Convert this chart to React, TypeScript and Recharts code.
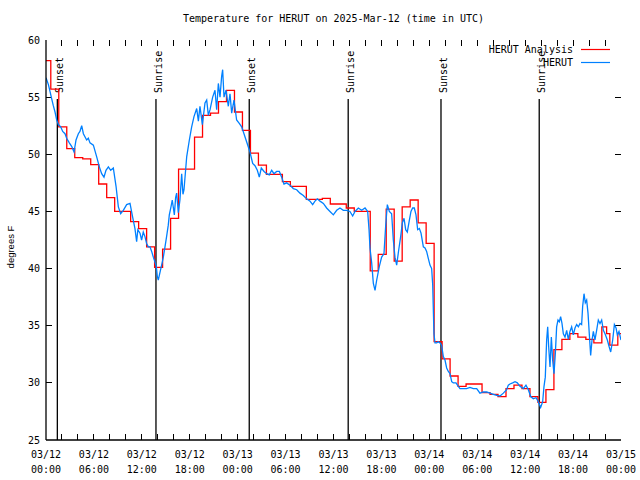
import React from 'react';
import { LineChart, Line, XAxis, YAxis, ReferenceLine, Legend } from 'recharts';

const MONO = '"DejaVu Sans Mono", monospace';
const SANS = '"Liberation Sans", Arial, sans-serif';

const titleText = 'Temperature for HERUT on 2025-Mar-12 (time in UTC)';
const yAxisTitle = 'degrees F';

const xTicks = [0, 2, 4, 6, 8, 10, 12, 14, 16, 18, 20, 22, 24, 26, 28, 30, 32, 34, 36, 38, 40, 42, 44, 46, 48, 50, 52, 54, 56, 58, 60, 62, 64, 66, 68, 70, 72];
const dayLabels = ['03/12', '03/12', '03/12', '03/12', '03/13', '03/13', '03/13', '03/13', '03/14', '03/14', '03/14', '03/14', '03/15'];
const timeLabels = ['00:00', '06:00', '12:00', '18:00', '00:00', '06:00', '12:00', '18:00', '00:00', '06:00', '12:00', '18:00', '00:00'];
const yTicks = [25, 30, 35, 40, 45, 50, 55, 60];

const seriesNames = ['HERUT Analysis', 'HERUT'];
const seriesColors = ['#ff0000', '#0080ff'];

// Observations (hours since 03/12 00:00 UTC, deg F)
const obsHours = [
  0.0, 0.3, 0.5, 0.7, 0.9, 1.13, 1.34, 1.55, 1.84, 2.09, 2.38, 2.59, 2.92, 3.21, 3.51, 3.76, 4.05, 4.25, 4.47, 4.68,
  5.09, 5.3, 5.51, 5.93, 6.34, 6.68, 6.97, 7.26, 7.51, 7.81, 8.1, 8.43, 8.77, 9.06, 9.35, 9.68, 10.1, 10.52, 10.85, 11.14,
  11.35, 11.5, 11.77, 11.97, 12.18, 12.39, 12.6, 12.81, 13.02, 13.23, 13.44, 13.64, 13.81, 13.94, 14.06, 14.19, 14.35, 14.48, 14.69, 14.9,
  15.1, 15.31, 15.44, 15.65, 15.81, 16.07, 16.23, 16.36, 16.57, 16.77, 16.99, 17.15, 17.28, 17.62, 17.95, 18.24, 18.53, 18.87, 19.08, 19.28,
  19.58, 19.91, 20.12, 20.33, 20.54, 20.87, 21.16, 21.37, 21.58, 21.79, 21.99, 22.12, 22.29, 22.54, 22.83, 23.04, 23.25, 23.54, 23.87, 24.2,
  24.5, 24.79, 25.12, 25.54, 25.88, 26.17, 26.46, 26.71, 26.96, 27.3, 27.63, 27.96, 28.26, 28.55, 28.88, 29.22, 29.51, 29.8, 30.13, 30.55,
  30.97, 31.39, 31.8, 32.22, 32.64, 33.06, 33.39, 33.68, 33.98, 34.31, 34.73, 35.14, 35.56, 35.98, 36.4, 36.81, 37.23, 37.65, 38.06, 38.4,
  38.69, 39.11, 39.53, 39.95, 40.28, 40.45, 40.57, 40.78, 40.99, 41.2, 41.41, 41.74, 42.03, 42.32, 42.53, 42.74, 42.99, 43.28, 43.49, 43.7,
  43.91, 44.16, 44.41, 44.62, 44.83, 45.04, 45.24, 45.49, 45.7, 45.91, 46.12, 46.33, 46.54, 46.75, 46.96, 47.25, 47.46, 47.66, 47.87, 48.08,
  48.29, 48.42, 48.58, 48.71, 48.92, 49.13, 49.33, 49.54, 49.75, 49.96, 50.17, 50.38, 50.59, 50.8, 51.0, 51.34, 51.63, 51.84, 52.26, 52.67,
  53.09, 53.51, 53.93, 54.34, 54.76, 55.18, 55.6, 56.01, 56.43, 56.85, 57.27, 57.68, 57.89, 58.1, 58.43, 58.73, 59.02, 59.35, 59.77, 60.1,
  60.4, 60.69, 61.02, 61.36, 61.65, 61.94, 62.19, 62.36, 62.52, 62.69, 62.82, 62.94, 63.11, 63.28, 63.44, 63.61, 63.78, 63.94, 64.11, 64.28,
  64.44, 64.61, 64.78, 64.99, 65.2, 65.4, 65.61, 65.82, 66.03, 66.24, 66.45, 66.66, 66.87, 67.07, 67.2, 67.37, 67.53, 67.7, 67.87, 68.03,
  68.2, 68.37, 68.54, 68.74, 68.95, 69.16, 69.37, 69.58, 69.79, 70.0, 70.29, 70.5, 70.71, 70.96, 71.17, 71.38, 71.54, 71.75, 72.0,
];
const obsTemps = [
  56.7, 56.1, 55.5, 54.9, 54.3, 53.7, 53.0, 52.6, 52.4, 52.0, 51.8, 51.4, 51.0, 50.7, 50.2, 51.25, 51.8, 52.0, 52.5, 51.8,
  51.25, 51.4, 51.0, 50.8, 49.8, 48.9, 48.3, 48.0, 48.6, 48.9, 48.6, 48.8, 47.2, 45.4, 44.8, 45.1, 45.6, 45.7, 44.5, 43.5,
  42.35, 43.4, 43.1, 42.5, 43.2, 42.8, 42.2, 41.9, 41.9, 41.5, 41.0, 40.6, 40.2, 39.3, 39.0, 39.4, 39.9, 40.3, 41.0, 41.9,
  42.8, 43.8, 44.7, 45.4, 46.0, 44.7, 46.2, 46.6, 44.9, 46.0, 48.3, 46.5, 46.9, 49.8, 51.25, 52.4, 53.3, 54.0, 52.9, 54.2,
  52.6, 54.5, 54.75, 53.4, 53.9, 55.0, 55.6, 53.9, 56.2, 55.0, 56.8, 57.4, 55.0, 55.6, 54.2, 55.3, 53.6, 54.75, 53.0, 52.7,
  52.4, 51.8, 51.1, 50.2, 49.2, 49.0, 48.6, 48.0, 48.8, 48.5, 48.3, 48.2, 48.6, 48.3, 48.5, 48.5, 48.0, 47.4, 47.5, 47.3,
  47.0, 46.9, 46.6, 46.4, 46.1, 45.9, 45.6, 45.9, 46.1, 45.9, 45.7, 45.3, 45.0, 44.7, 45.1, 45.3, 45.1, 45.1, 45.0, 44.6,
  45.0, 45.3, 45.1, 45.3, 45.0, 43.4, 41.8, 40.5, 38.7, 38.1, 39.0, 40.2, 41.0, 41.3, 43.7, 45.6, 45.0, 44.8, 42.5, 41.0,
  40.3, 41.6, 42.8, 44.0, 44.4, 43.4, 43.2, 44.2, 45.0, 45.3, 45.3, 44.7, 43.4, 43.5, 43.1, 41.9, 41.8, 41.5, 40.9, 40.3,
  40.0, 38.6, 34.3, 33.5, 33.5, 33.6, 33.5, 33.3, 32.3, 32.0, 31.3, 31.0, 30.8, 30.1, 30.0, 30.0, 29.7, 29.5, 29.5, 29.5,
  29.6, 29.5, 29.5, 29.1, 29.2, 29.2, 29.1, 29.0, 28.9, 28.85, 29.1, 29.4, 29.8, 29.9, 30.0, 30.1, 30.0, 29.7, 29.5, 29.8,
  29.4, 28.8, 28.6, 28.7, 28.35, 27.85, 28.35, 29.7, 30.5, 33.75, 34.9, 33.2, 31.4, 34.0, 32.0, 30.8, 32.6, 34.9, 35.5, 35.35,
  35.8, 35.2, 34.3, 34.0, 34.6, 33.8, 34.5, 34.9, 34.2, 34.8, 35.1, 34.9, 35.2, 35.1, 36.7, 37.8, 37.0, 37.25, 36.1, 34.3,
  32.4, 33.75, 34.5, 33.75, 34.6, 35.5, 35.2, 35.5, 34.6, 34.3, 33.75, 33.2, 32.7, 33.75, 35.1, 34.8, 34.2, 34.5, 33.75,
];

// Hourly analysis (step starts)
const anaHours = [
  0, 0.6, 1.6, 2.6, 3.6, 4.6, 5.6, 6.6, 7.6, 8.6, 10.6, 11.6, 12.6, 13.6, 14.6, 15.6, 16.6, 18.6, 19.6, 20.6,
  21.6, 22.6, 23.6, 24.6, 25.6, 26.6, 27.6, 29.6, 30.6, 32.6, 34.6, 35.6, 37.6, 38.6, 40.6, 41.6, 42.6, 43.6, 44.6, 45.6,
  46.6, 47.6, 48.6, 49.6, 50.6, 51.6, 52.6, 54.6, 55.6, 56.6, 57.6, 58.6, 59.6, 60.6, 61.6, 62.6, 63.6, 64.6, 65.6, 66.6,
  67.6, 68.6, 69.6, 70.2, 70.6, 71.6, 72,
];
const anaTemps = [
  58.2, 55.7, 52.4, 50.5, 49.7, 49.6, 49.1, 47.4, 46.2, 45.0, 44.1, 43.5, 41.9, 40.1, 41.7, 44.4, 48.7, 51.5, 53.4, 53.6,
  54.6, 55.6, 53.7, 52.1, 50.1, 49.06, 48.25, 47.6, 47.2, 46.06, 46.15, 45.65, 45.3, 45.0, 39.8, 41.25, 45.2, 40.65, 45.4, 46.0,
  44.0, 42.2, 33.6, 32.1, 30.6, 29.7, 29.9, 29.14, 29.0, 28.8, 29.5, 29.8, 29.5, 28.8, 28.3, 29.4, 32.9, 33.8, 34.3, 34.0,
  33.8, 33.5, 34.9, 34.3, 33.3, 34.3, 34.3,
];

const sunHours = [1.42, 13.77, 25.45, 37.84, 49.46, 61.76];
const sunLabels = ['Sunset', 'Sunrise', 'Sunset', 'Sunrise', 'Sunset', 'Sunrise'];
const sunLineTop = 54.84;

const X_MIN = 0;
const X_MAX = 72;
const Y_MIN = 25;
const Y_MAX = 60;
// tick mark length (~6px) expressed in axis units
const X_TICK_LEN = 0.75;
const Y_TICK_LEN = 0.52;

const obsData = obsHours.map((h, i) => ({ h, t: obsTemps[i] }));
const anaData = anaHours.map((h, i) => ({ h, t: anaTemps[i] }));

const BottomTick = (props: any) => {
  const { x, y, payload } = props;
  const v = payload.value;
  if (v % 6 !== 0) return <g />;
  const idx = v / 6;
  return (
    <text textAnchor="middle" fontFamily={MONO} fontSize={10} fill="#000">
      <tspan x={x} y={y + 17.5}>{dayLabels[idx]}</tspan>
      <tspan x={x} y={y + 32.5}>{timeLabels[idx]}</tspan>
    </text>
  );
};

const LeftTick = (props: any) => {
  const { x, y, payload } = props;
  return (
    <text x={x - 6} y={y + 3.5} textAnchor="end" fontFamily={MONO} fontSize={10} fill="#000">
      {payload.value}
    </text>
  );
};

const makeSunShape = (label: string) => (p: any) => {
  const x = p.x1;
  const top = Math.min(p.y1, p.y2);
  const bottom = Math.max(p.y1, p.y2);
  const tx = x + 6;
  const ty = top - 6;
  return (
    <g>
      <line x1={x} y1={top} x2={x} y2={bottom} stroke="#000" strokeWidth={1.3} />
      <text
        x={tx}
        y={ty}
        transform={`rotate(-90 ${tx} ${ty})`}
        textAnchor="start"
        fontFamily={MONO}
        fontSize={10}
        fill="#000"
      >
        {label}
      </text>
    </g>
  );
};

const tickMarkShape = (p: any) => (
  <line x1={p.x1} y1={p.y1} x2={p.x2} y2={p.y2} stroke="#000" strokeWidth={1} shapeRendering="crispEdges" />
);

const renderLegend = () => (
  <div style={{ fontFamily: MONO, fontSize: 10, color: '#000' }}>
    {seriesNames.map((name, i) => (
      <div key={name} style={{ display: 'flex', justifyContent: 'flex-end', alignItems: 'center', height: 13 }}>
        <span style={{ lineHeight: '13px', whiteSpace: 'pre' }}>{name}</span>
        <svg width={37} height={13} style={{ display: 'block' }}>
          <line x1={8} y1={6.5} x2={37} y2={6.5} stroke={seriesColors[i]} strokeWidth={1.2} />
        </svg>
      </div>
    ))}
  </div>
);

export default function App() {
  const innerX = xTicks.filter((v) => v > X_MIN && v < X_MAX);
  const innerY = yTicks.filter((v) => v > Y_MIN && v < Y_MAX);
  return (
    <div style={{ position: 'absolute', left: 0, top: 0, width: 640, height: 480, background: '#fff' }}>
      <div
        style={{
          position: 'absolute',
          left: 46,
          width: 575,
          top: 12,
          lineHeight: '14px',
          textAlign: 'center',
          fontFamily: MONO,
          fontSize: 10,
          color: '#000',
          whiteSpace: 'pre',
        }}
      >
        {titleText}
      </div>
      <div
        style={{
          position: 'absolute',
          left: 11,
          top: 247,
          transform: 'translate(-50%, -50%) rotate(-90deg)',
          fontFamily: SANS,
          fontSize: 9.5,
          color: '#000',
          whiteSpace: 'nowrap',
          lineHeight: '12px',
        }}
      >
        {yAxisTitle}
      </div>
      <LineChart width={640} height={480} margin={{ top: 40, right: 19, bottom: 0, left: 0 }}>
        <XAxis
          xAxisId="b"
          dataKey="h"
          type="number"
          domain={[X_MIN, X_MAX]}
          ticks={xTicks}
          interval={0}
          allowDataOverflow
          height={40}
          tickSize={0}
          tickMargin={0}
          tickLine={false}
          tick={BottomTick}
          axisLine={{ stroke: '#000', strokeWidth: 1.3 }}
        />
        <XAxis
          xAxisId="t"
          orientation="top"
          dataKey="h"
          type="number"
          domain={[X_MIN, X_MAX]}
          ticks={xTicks}
          allowDataOverflow
          height={0}
          tickLine={false}
          tick={false}
          axisLine={{ stroke: '#000', strokeWidth: 1.3 }}
        />
        <YAxis
          yAxisId="l"
          type="number"
          domain={[Y_MIN, Y_MAX]}
          ticks={yTicks}
          interval={0}
          allowDataOverflow
          width={46}
          tickSize={0}
          tickMargin={0}
          tickLine={false}
          tick={LeftTick}
          axisLine={{ stroke: '#000', strokeWidth: 1.3 }}
        />
        <YAxis
          yAxisId="r"
          orientation="right"
          type="number"
          domain={[Y_MIN, Y_MAX]}
          ticks={yTicks}
          allowDataOverflow
          width={0}
          tickLine={false}
          tick={false}
          axisLine={{ stroke: '#000', strokeWidth: 1.3 }}
        />
        {innerX.map((v) => (
          <ReferenceLine
            key={`xb-${v}`}
            xAxisId="b"
            yAxisId="l"
            segment={[{ x: v, y: Y_MIN }, { x: v, y: Y_MIN + Y_TICK_LEN }]}
            shape={tickMarkShape}
          />
        ))}
        {innerX.map((v) => (
          <ReferenceLine
            key={`xt-${v}`}
            xAxisId="b"
            yAxisId="l"
            segment={[{ x: v, y: Y_MAX }, { x: v, y: Y_MAX - Y_TICK_LEN }]}
            shape={tickMarkShape}
          />
        ))}
        {innerY.map((v) => (
          <ReferenceLine
            key={`yl-${v}`}
            xAxisId="b"
            yAxisId="l"
            segment={[{ x: X_MIN, y: v }, { x: X_MIN + X_TICK_LEN, y: v }]}
            shape={tickMarkShape}
          />
        ))}
        {innerY.map((v) => (
          <ReferenceLine
            key={`yr-${v}`}
            xAxisId="b"
            yAxisId="l"
            segment={[{ x: X_MAX, y: v }, { x: X_MAX - X_TICK_LEN, y: v }]}
            shape={tickMarkShape}
          />
        ))}
        {sunHours.map((h, i) => (
          <ReferenceLine
            key={`sun-${i}`}
            xAxisId="b"
            yAxisId="l"
            segment={[{ x: h, y: Y_MIN }, { x: h, y: sunLineTop }]}
            shape={makeSunShape(sunLabels[i])}
            stroke="#000"
          />
        ))}
        <Line
          xAxisId="b"
          yAxisId="l"
          data={anaData}
          dataKey="t"
          name={seriesNames[0]}
          type="stepAfter"
          stroke={seriesColors[0]}
          strokeWidth={1.3}
          dot={false}
          isAnimationActive={false}
        />
        <Line
          xAxisId="b"
          yAxisId="l"
          data={obsData}
          dataKey="t"
          name={seriesNames[1]}
          type="linear"
          stroke={seriesColors[1]}
          strokeWidth={1.3}
          dot={false}
          isAnimationActive={false}
        />
        <Legend
          layout="horizontal"
          verticalAlign="middle"
          align="center"
          wrapperStyle={{ top: 43, left: 440, width: 170, height: 26 }}
          content={renderLegend}
        />
      </LineChart>
    </div>
  );
}
